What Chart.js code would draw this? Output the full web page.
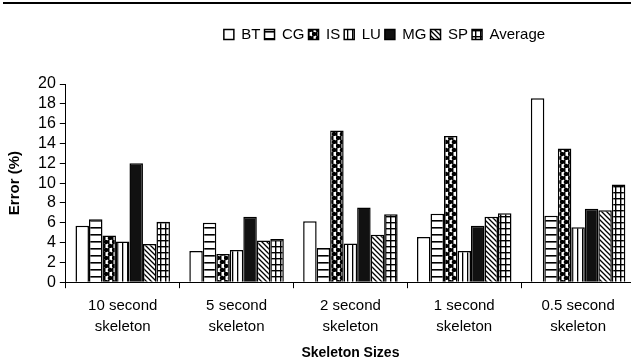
<!DOCTYPE html>
<html><head><meta charset="utf-8">
<script src="https://cdn.jsdelivr.net/npm/chart.js@4/dist/chart.umd.min.js"></script>
<style>
html,body{margin:0;padding:0;background:#fff;overflow:hidden;width:631px;height:364px;}
#rule{position:absolute;left:3px;top:2px;width:628px;height:0;border-top:2px solid #000;}
#wrap{position:absolute;left:0;top:0;width:640px;height:364px;}
</style></head>
<body>
<div id="wrap"><canvas id="c" width="640" height="364"></canvas></div>
<div id="rule"></div>
<script>
const categories = [['10 second','skeleton'],['5 second','skeleton'],['2 second','skeleton'],['1 second','skeleton'],['0.5 second','skeleton']];
const seriesNames = ['BT','CG','IS','LU','MG','SP','Average'];
const BT  = [5.7, 3.15, 6.15, 4.55, 18.55];
const CG  = [6.35, 6.0, 3.45, 6.9, 6.7];
const IS  = [4.7, 2.85, 15.3, 14.75, 13.5];
const LU  = [4.1, 3.25, 3.9, 3.15, 5.55];
const MG  = [12.0, 6.6, 7.55, 5.7, 7.4];
const SP  = [3.85, 4.2, 4.8, 6.6, 7.25];
const AVG = [6.1, 4.35, 6.85, 6.95, 9.85];
const yTicks = [0,2,4,6,8,10,12,14,16,18,20];

function pat(w,h,draw){
  const c=document.createElement('canvas');c.width=w;c.height=h;
  const x=c.getContext('2d');x.fillStyle='#fff';x.fillRect(0,0,w,h);
  x.fillStyle='#000';x.strokeStyle='#000';draw(x,w,h);
  return document.getElementById('c').getContext('2d').createPattern(c,'repeat');
}
const fills = [
  '#fff',
  pat(4,7,(x,w,h)=>{x.fillRect(0,3,w,1.6);}),
  pat(8,8,(x,w,h)=>{x.beginPath();x.arc(2,2,2.3,0,Math.PI*2);x.fill();x.beginPath();x.arc(6,6,2.3,0,Math.PI*2);x.fill();x.fillRect(4,0,1.5,4);x.fillRect(0,4,1.5,4);}),
  pat(5,4,(x,w,h)=>{x.fillRect(2,0,1.3,h);}),
  '#111',
  pat(5,5,(x,w,h)=>{x.lineWidth=1.3;x.beginPath();x.moveTo(-1,-1);x.lineTo(6,6);x.moveTo(-1,4);x.lineTo(1,6);x.moveTo(4,-1);x.lineTo(6,1);x.stroke();}),
  pat(5,6,(x,w,h)=>{x.fillRect(0,0,1.4,h);x.fillRect(0,0,w,1.4);})
];
const values = [BT,CG,IS,LU,MG,SP,AVG];

const legendMargin = {id:'legendMargin', beforeInit(chart){
  const lg = chart.legend; const f = lg.fit;
  lg.fit = function(){ f.bind(lg)(); this.height += 32; };
}};
const legendShift = {id:'legendShift', afterLayout(chart){
  const lg = chart.legend; lg.left += 64; lg.right += 64;
}};

new Chart(document.getElementById('c'), {
  type:'bar',
  data:{
    labels: categories,
    datasets: seriesNames.map((n,i)=>({label:n, data:values[i], backgroundColor:fills[i], borderColor:'#000', borderWidth:1.5}))
  },
  plugins:[legendMargin, legendShift],
  options:{
    responsive:false, animation:false, devicePixelRatio:1,
    layout:{padding:{top:23,left:6,right:5,bottom:2}},
    datasets:{bar:{categoryPercentage:0.83, barPercentage:1.0}},
    plugins:{
      legend:{position:'top', labels:{color:'#000', boxWidth:10, boxHeight:10, padding:4, font:{family:'Liberation Sans, Arial', size:15}}},
      tooltip:{enabled:false}
    },
    scales:{
      x:{
        grid:{display:true, drawOnChartArea:false, drawTicks:true, tickLength:6, color:'#000', offset:true},
        border:{display:true, color:'#000', width:1},
        ticks:{color:'#000', font:{family:'Liberation Sans, Arial', size:15, lineHeight:1.4}, maxRotation:0, padding:7},
        title:{display:true, text:'Skeleton Sizes', color:'#000', font:{family:'Liberation Sans, Arial', size:14, weight:'bold'}, padding:{top:1,bottom:0}}
      },
      y:{
        min:0, max:20,
        afterBuildTicks(axis){ axis.ticks = yTicks.map(v=>({value:v})); },
        grid:{display:true, drawOnChartArea:false, drawTicks:true, tickLength:6, color:'#000'},
        border:{display:true, color:'#000', width:1},
        ticks:{color:'#000', autoSkip:false, font:{family:'Liberation Sans, Arial', size:16}, padding:4},
        title:{display:true, text:'Error (%)', color:'#000', font:{family:'Liberation Sans, Arial', size:15, weight:'bold'}, padding:{top:0,bottom:10}}
      }
    }
  }
});
</script>
</body></html>
